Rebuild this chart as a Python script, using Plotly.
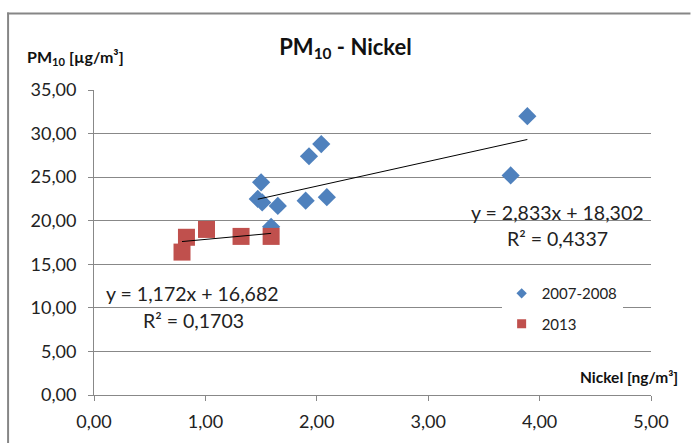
import plotly.graph_objects as go
import numpy as np

# Data
x_0708 = [3.89, 3.74, 1.50, 1.47, 1.51, 1.65, 1.59, 1.90, 2.09, 1.93, 2.04]
y_0708 = [32.0, 25.2, 24.4, 22.5, 22.1, 21.7, 19.3, 22.3, 22.7, 27.4, 28.8]
x_2013 = [0.79, 0.83, 1.01, 1.32, 1.59]
y_2013 = [16.4, 18.1, 19.0, 18.2, 18.2]
series_names = ["2007-2008", "2013"]
trend_slope = [2.833, 1.172]
trend_intercept = [18.302, 16.682]
trend_eq = ["y = 2,833x + 18,302", "y = 1,172x + 16,682"]
trend_r2 = ["R² = 0,4337", "R² = 0,1703"]
x_ticks = [0, 1, 2, 3, 4, 5]
y_ticks = [0, 5, 10, 15, 20, 25, 30, 35]

FONT = "Lato"
BLUE = "#4F81BD"
RED = "#C0504D"
GRID = "#888888"

fig = go.Figure()

fig.add_trace(go.Scatter(x=x_0708, y=y_0708, mode="markers", name=series_names[0],
                         showlegend=False,
                         marker=dict(symbol="diamond", size=14, color=BLUE, line=dict(width=0))))
fig.add_trace(go.Scatter(x=x_2013, y=y_2013, mode="markers", name=series_names[1],
                         showlegend=False,
                         marker=dict(symbol="square", size=17, color=RED, line=dict(width=0))))

for xs, m, b in [(x_0708, trend_slope[0], trend_intercept[0]), (x_2013, trend_slope[1], trend_intercept[1])]:
    xr = np.array([min(xs), max(xs)])
    fig.add_trace(go.Scatter(x=xr, y=m * xr + b, mode="lines", showlegend=False,
                             line=dict(color="black", width=1), hoverinfo="skip"))

# legend entries with small symbols, as in the reference
fig.add_trace(go.Scatter(x=[None], y=[None], mode="markers", name=series_names[0], legendgroup="a",
                         marker=dict(symbol="diamond", size=8, color=BLUE, line=dict(width=0))))
fig.add_trace(go.Scatter(x=[None], y=[None], mode="markers", name=series_names[1], legendgroup="b",
                         marker=dict(symbol="square", size=9, color=RED, line=dict(width=0))))

annos = [
    dict(x=4.16, y=21.0, text=trend_eq[0]),
    dict(x=4.16, y=18.0, text=trend_r2[0]),
    dict(x=0.88, y=11.7, text=trend_eq[1]),
    dict(x=0.89, y=8.6, text=trend_r2[1]),
]
annotations = []
for a in annos:
    annotations.append(dict(x=a["x"], y=a["y"], xref="x", yref="y", text=a["text"], showarrow=False,
                            font=dict(family=FONT, size=19.5, color="#222222"),
                            xanchor="center", yanchor="middle"))
annotations.append(dict(x=25, y=57, text="<b>PM<sub>10</sub> [µg/m³]</b>",
                        showarrow=False, font=dict(family=FONT, size=16, color="#111111"),
                        xanchor="left", yanchor="middle"))
annotations.append(dict(x=681, y=377, text="<b>Nickel [ng/m³]</b>", showarrow=False,
                        font=dict(family=FONT, size=15.5, color="#111111"),
                        xanchor="right", yanchor="middle"))

# convert pixel-positioned annotations to paper coords
L, R, T, B = 94, 39.5, 89.7, 48
W, H = 691, 443
pw, ph = W - L - R, H - T - B
for a in annotations[4:]:
    a["x"] = (a["x"] - L) / pw
    a["y"] = (H - B - a["y"]) / ph
    a["xref"] = "paper"
    a["yref"] = "paper"

def px_x(p):
    return (p - L) / pw

def px_y(p):
    return (H - B - p) / ph

fig.update_layout(
    width=W, height=H,
    margin=dict(l=L, r=R, t=T, b=B, pad=0),
    paper_bgcolor="white", plot_bgcolor="white",
    separators=",.",
    font=dict(family=FONT, size=18, color="#222222"),
    title=dict(text="<b>PM<sub>10</sub> - Nickel</b>", x=0.5, xref="container", xanchor="center",
               y=1 - 47 / H, yref="container", yanchor="middle",
               font=dict(family=FONT, size=22, color="#111111")),
    xaxis=dict(range=[0, 5], tickvals=x_ticks, tickformat=".2f", showgrid=False, zeroline=False,
               showline=True, linecolor=GRID, linewidth=1, ticks="outside", ticklen=5, tickcolor=GRID,
               ticklabelstandoff=5,
               tickfont=dict(family=FONT, size=18, color="#222222"), fixedrange=True),
    yaxis=dict(range=[0, 35], tickvals=y_ticks, tickformat=".2f", showgrid=True, gridcolor=GRID,
               gridwidth=1, zeroline=False, showline=True, linecolor=GRID, linewidth=1,
               ticks="outside", ticklen=5, tickcolor=GRID, ticklabelstandoff=8,
               tickfont=dict(family=FONT, size=18, color="#222222"), fixedrange=True),
    legend=dict(x=px_x(502), y=px_y(277), xanchor="left", yanchor="top",
                bgcolor="white", borderwidth=0, tracegroupgap=8, itemwidth=30,
                font=dict(family=FONT, size=15, color="#222222")),
    annotations=annotations,
    shapes=[
        dict(type="line", xref="paper", yref="paper",
             x0=px_x(8), x1=px_x(8), y0=px_y(443), y1=px_y(12),
             line=dict(color="#868686", width=2), layer="below"),
        dict(type="line", xref="paper", yref="paper",
             x0=px_x(7), x1=px_x(691), y0=px_y(13), y1=px_y(13),
             line=dict(color="#868686", width=2), layer="below"),
    ],
    showlegend=True,
)

fig.write_html("out.html", config={"displayModeBar": False})
